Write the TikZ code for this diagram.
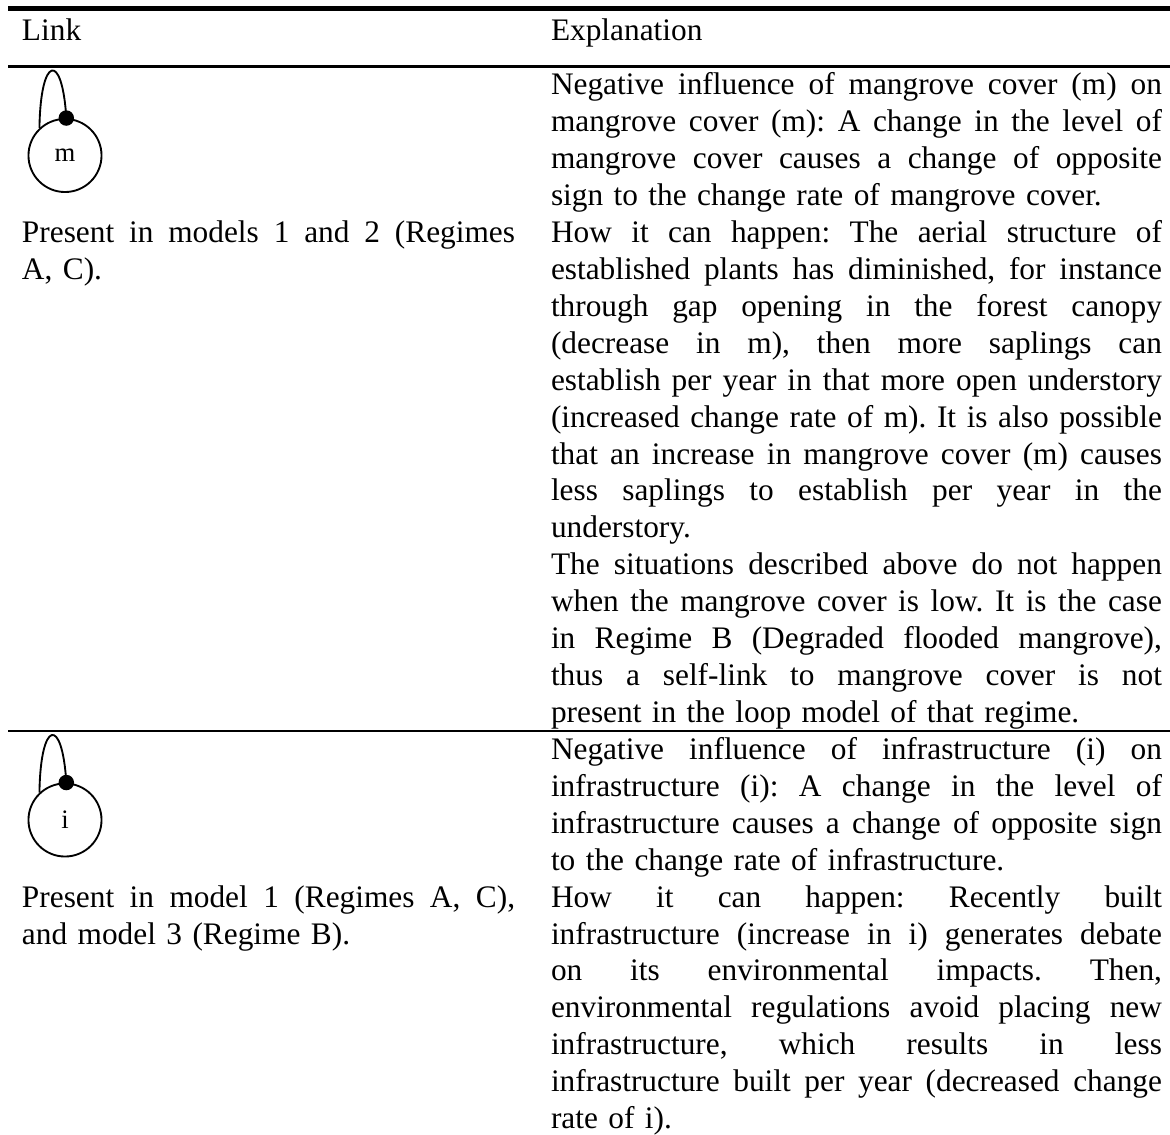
\documentclass[tikz,border=0pt]{standalone}
\usepackage{fontspec}
\setmainfont{Liberation Serif}
\newlength{\leftw}  \setlength{\leftw}{184.9pt}
\newlength{\rightw} \setlength{\rightw}{229.1pt}
% split a line at its spaces and spread the words over the full width
\def\jsplit#1 #2\jstop{#1\ifx\relax#2\relax\else\hfill\jsplit#2\jstop\fi}
\newcommand{\jleft}[1]{\hbox to \leftw{\jsplit#1 \relax\jstop}\par}
\newcommand{\jright}[1]{\hbox to \rightw{\jsplit#1 \relax\jstop}\par}
\tikzset{
  cell/.style={anchor=base west, inner sep=0pt, outer sep=0pt,
    font={\fontsize{11.75}{13.84}\selectfont\frenchspacing}},
  leftcell/.style={cell, text width=\leftw},
  rightcell/.style={cell, text width=\rightw},
  var/.style={circle, draw, line width=0.7pt, minimum size=27.4pt,
    inner sep=0pt, font=\fontsize{10}{12}\selectfont},
  dot/.style={circle, fill, minimum size=5.8pt, inner sep=0pt},
  selfloop/.style={line width=0.7pt},
  thickrule/.style={line width=1.8pt},
  thinrule/.style={line width=0.8pt}
}
\begin{document}
\begin{tikzpicture}[x=0.375pt, y=-0.375pt]
\useasboundingbox (0,0) rectangle (1170,1135);

% table rules
\coordinate (tl) at (8,8.5);   \coordinate (tr) at (1170,8.5);
\coordinate (hl) at (8,66.5);  \coordinate (hr) at (1170,66.5);
\coordinate (rl) at (8,731);   \coordinate (rr) at (1170,731);
\draw[thickrule] (tl) -- (tr);
\draw[thinrule] (hl) -- (hr);
\draw[thinrule] (rl) -- (rr);

% header
\node[cell] (hlink) at (22,40.5) {Link};
\node[cell] (hexpl) at (551,40.5) {Explanation};

% ---- row 1: mangrove cover
\node[var] (m) at (65,155.5) {m};
\draw[selfloop] (m.133) .. controls +(1,-73) and +(-4,-67) .. (m.88);
\node[dot] (mdot) at (m.88) {};

\node[leftcell] (pm) at (22,242.6) {%
\jleft{Present in models 1 and 2 (Regimes}
A, C).\par};

\node[rightcell] (em) at (551,95) {%
\jright{Negative influence of mangrove cover (m) on}
\jright{mangrove cover (m): A change in the level of}
\jright{mangrove cover causes a change of opposite}
sign to the change rate of mangrove cover.\par
\jright{How it can happen: The aerial structure of}
\jright{established plants has diminished, for instance}
\jright{through gap opening in the forest canopy}
\jright{(decrease in m), then more saplings can}
\jright{establish per year in that more open understory}
\jright{(increased change rate of m). It is also possible}
\jright{that an increase in mangrove cover (m) causes}
\jright{less saplings to establish per year in the}
understory.\par
\jright{The situations described above do not happen}
\jright{when the mangrove cover is low. It is the case}
\jright{in Regime B (Degraded flooded mangrove),}
\jright{thus a self-link to mangrove cover is not}
present in the loop model of that regime.\par};

% ---- row 2: infrastructure
\node[var] (i) at (65,820) {i};
\draw[selfloop] (i.133) .. controls +(1,-73) and +(-4,-67) .. (i.88);
\node[dot] (idot) at (i.88) {};

\node[leftcell] (pi) at (22,907.1) {%
\jleft{Present in model 1 (Regimes A, C),}
and model 3 (Regime B).\par};

\node[rightcell] (ei) at (551,759.5) {%
\jright{Negative influence of infrastructure (i) on}
\jright{infrastructure (i): A change in the level of}
\jright{infrastructure causes a change of opposite sign}
to the change rate of infrastructure.\par
\jright{How it can happen: Recently built}
\jright{infrastructure (increase in i) generates debate}
\jright{on its environmental impacts. Then,}
\jright{environmental regulations avoid placing new}
\jright{infrastructure, which results in less}
\jright{infrastructure built per year (decreased change}
rate of i).\par};
\end{tikzpicture}
\end{document}
